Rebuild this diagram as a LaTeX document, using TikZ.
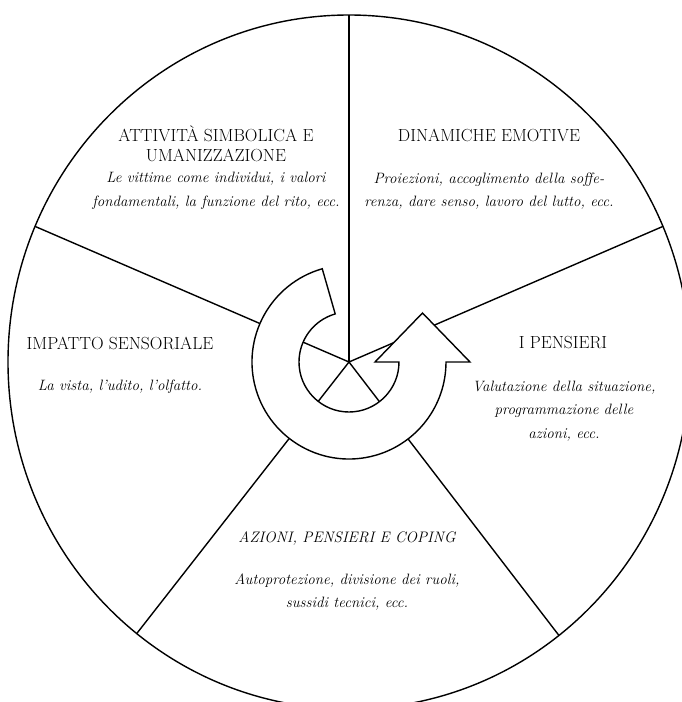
\documentclass[tikz,border=0pt]{standalone}
\begin{document}
\begin{tikzpicture}[x=1pt,y=1pt,
    tratto/.style={line width=1.4pt},
    titolo/.style={align=center, inner sep=0pt, font=\fontsize{17.5}{19.5}\selectfont},
    corpo/.style={align=center, inner sep=0pt, font=\fontsize{15}{23.5}\selectfont\itshape}]%{{{
\useasboundingbox (-349,-340) rectangle (333,362);
\clip (-349,-340) rectangle (333,362);
%
% Cerchio
\coordinate (centro) at (0,0);
\draw [tratto] (centro) ellipse [x radius=341, y radius=347];
%
% Raggi
\foreach \a/\n in {90/r1,157/r2,231.5/r3,308/r4,23/r5} {
  \coordinate (\n) at (\a:341 and 347);
  \draw [tratto] (centro) -- (\n);
}
%
% Freccia circolare
\draw [tratto, fill=white]
      (106:97) arc [start angle=106, end angle=360, radius=97]
   -- (121,0) -- (73.5,49) -- (26,0) -- (50,0)
      arc [start angle=360, end angle=106, radius=50] -- cycle;
%
% Settori
\node [titolo] (simb)  at (-133,218)   {ATTIVITÀ SIMBOLICA E\\UMANIZZAZIONE};
\node [corpo]  (simbt) at (-133,171)   {Le vittime come individui, i valori\\fondamentali, la funzione del rito, ecc.};
%
\node [titolo] (emo)   at (140,226.5)  {DINAMICHE EMOTIVE};
\node [corpo]  (emot)  at (140,171)    {Proiezioni, accoglimento della soffe-\\renza, dare senso, lavoro del lutto, ecc.};
%
\node [titolo] (sens)  at (-229,19)    {IMPATTO SENSORIALE};
\node [corpo]  (senst) at (-229,-25)   {La vista, l'udito, l'olfatto.};
%
\node [titolo] (pens)  at (214,19)     {I PENSIERI};
\node [corpo]  (penst) at (215,-49)    {Valutazione della situazione,\\programmazione delle\\azioni, ecc.};
%
\node [titolo, font=\fontsize{15.2}{19}\selectfont\itshape] (az) at (-2,-177) {AZIONI, PENSIERI E COPING};
\node [corpo]  (azt)   at (-2,-230)    {Autoprotezione, divisione dei ruoli,\\sussidi tecnici, ecc.};
%
\end{tikzpicture}
\end{document}
